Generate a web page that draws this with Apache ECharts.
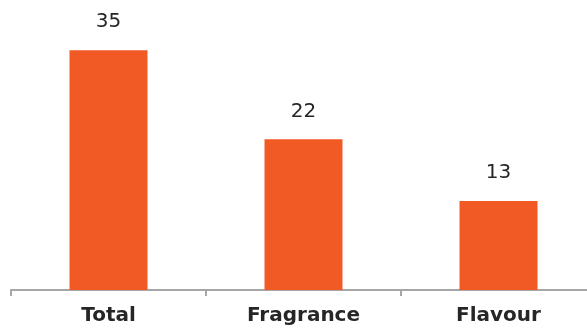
<!DOCTYPE html>
<html lang="en">
<head>
    <meta charset="UTF-8">
    <script src="https://cdn.jsdelivr.net/npm/echarts@6/dist/echarts.min.js"></script>
    <title>Chart</title>
    <style>
        html, body { margin: 0; padding: 0; background: #fff; }
        #main { width: 587px; height: 331px; }
    </style>
</head>
<body>
<div id="main"></div>
<script>
    var categories = ['Total', 'Fragrance', 'Flavour']
    var values = [35, 22, 13]

    var myChart = echarts.init(document.getElementById('main'))

    var option = {
        animation: false,
        grid: {
            left: 11,
            right: -9,
            top: 16,
            bottom: 41,
            containLabel: false,
            outerBoundsMode: 'none'
        },
        xAxis: {
            type: 'category',
            data: categories,
            axisLine: {
                lineStyle: { color: '#a6a6a6', width: 2 }
            },
            axisTick: {
                show: true,
                length: 6,
                lineStyle: { color: '#a6a6a6', width: 2 }
            },
            axisLabel: {
                margin: 16,
                color: '#262626',
                fontFamily: 'DejaVu Sans',
                fontWeight: 'bold',
                fontSize: 20
            }
        },
        yAxis: {
            type: 'value',
            min: 0,
            max: 40,
            show: false,
            splitLine: { show: false }
        },
        series: [
            {
                type: 'bar',
                data: values,
                barWidth: '40%',
                itemStyle: { color: '#F15A24' },
                label: {
                    show: true,
                    position: 'top',
                    distance: 18,
                    color: '#262626',
                    fontFamily: 'DejaVu Sans',
                    fontSize: 20
                }
            }
        ]
    }

    myChart.setOption(option)
</script>
</body>
</html>
